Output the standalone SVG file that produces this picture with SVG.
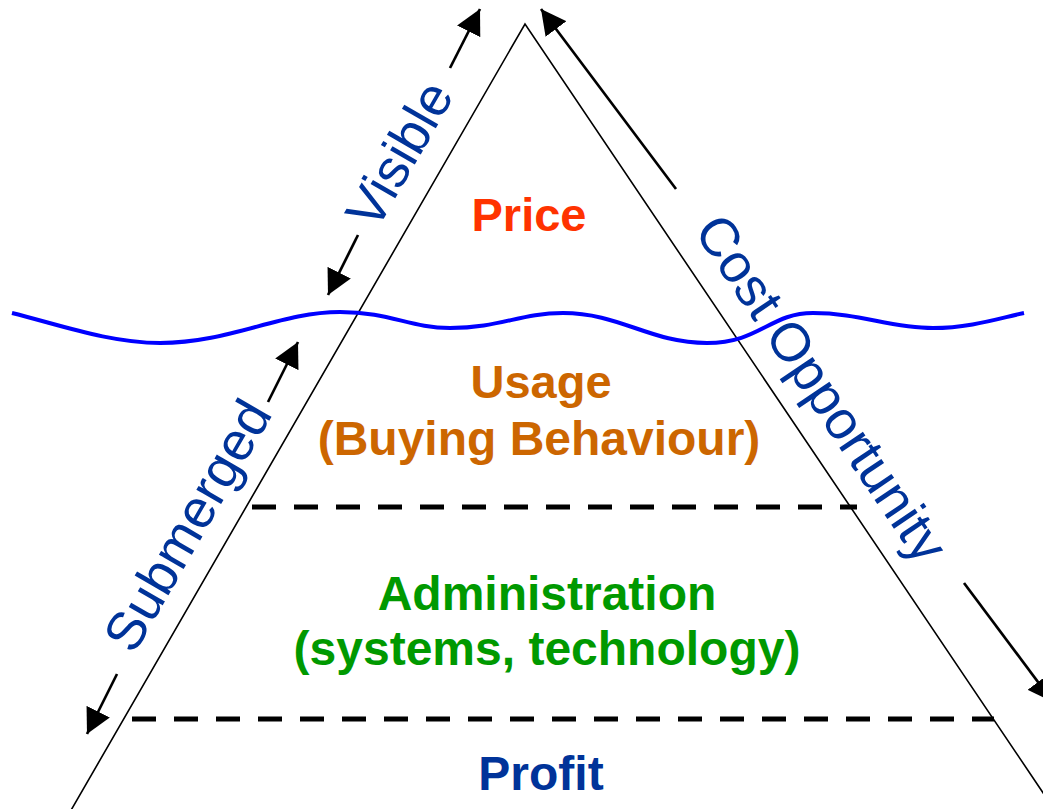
<svg xmlns="http://www.w3.org/2000/svg" width="1043" height="809" viewBox="0 0 1043 809">
  <style>
    .edge { fill: none; stroke: #000; stroke-width: 1.6; }
    .tier { fill: none; stroke: #000; stroke-width: 5; stroke-dasharray: 24 18; }
    .water { fill: none; stroke: #0000FF; stroke-width: 4; }
    .arrow { fill: none; stroke: #000; stroke-width: 2.7; marker-end: url(#head); }
    .level { font-family: "Liberation Sans", Arial, sans-serif; font-weight: bold; font-size: 48px; text-anchor: middle; }
    .top { font-size: 47px; }
    .side { font-family: "Liberation Sans", Arial, sans-serif; font-size: 54px; fill: #003399; text-anchor: middle; }
  </style>
  <defs>
    <marker id="head" markerUnits="userSpaceOnUse" markerWidth="26" markerHeight="26" refX="25" refY="13" orient="auto">
      <path d="M0,0 L25,13 L0,26 Z" fill="#000"/>
    </marker>
  </defs>

  <rect width="1043" height="809" fill="#fff"/>

  <!-- iceberg outline -->
  <g id="iceberg">
    <polyline class="edge" points="70,812 525,24 1056,812"/>
  </g>

  <!-- tier separators -->
  <g id="tiers">
    <line class="tier" x1="252" y1="507" x2="857" y2="507"/>
    <line class="tier" x1="132" y1="719" x2="994" y2="719"/>
  </g>

  <!-- waterline -->
  <g id="waterline">
    <path class="water" d="M12,313 C60,325 110,343 160,343 C230,343 280,312 340,312 C390,312 410,328 450,328 C500,328 520,313 563,313 C620,313 650,343 707,343 C760,343 770,313 813,313 C860,313 890,328 933,328 C970,328 1000,318 1024,313"/>
  </g>

  <!-- level labels -->
  <g id="price">
    <text class="level top" x="529" y="231" fill="#FF3300">Price</text>
  </g>
  <g id="usage">
    <text class="level top" x="541" y="398" fill="#CC6600">Usage</text>
    <text class="level" x="539" y="455" fill="#CC6600">(Buying Behaviour)</text>
  </g>
  <g id="administration">
    <text class="level" x="547" y="610" fill="#009900">Administration</text>
    <text class="level" x="547" y="665" fill="#009900">(systems, technology)</text>
  </g>
  <g id="profit">
    <text class="level" x="541" y="790" fill="#003399">Profit</text>
  </g>

  <!-- side labels -->
  <g id="visible">
    <text class="side" transform="translate(399,154) rotate(-60)" y="19">Visible</text>
  </g>
  <g id="submerged">
    <text class="side" transform="translate(187,525) rotate(-60)" y="19">Submerged</text>
  </g>
  <g id="cost-opportunity">
    <text class="side" transform="translate(822,388) rotate(56)" y="19">Cost Opportunity</text>
  </g>

  <!-- connectors -->
  <g id="connectors">
    <line class="arrow" x1="450" y1="68" x2="480" y2="9"/>
    <line class="arrow" x1="358" y1="235" x2="328" y2="295"/>
    <line class="arrow" x1="268" y1="402" x2="298" y2="342"/>
    <line class="arrow" x1="117" y1="674" x2="87" y2="734"/>
    <line class="arrow" x1="676" y1="189" x2="541" y2="9"/>
    <line class="arrow" x1="964" y1="583" x2="1053" y2="702"/>
  </g>
</svg>
